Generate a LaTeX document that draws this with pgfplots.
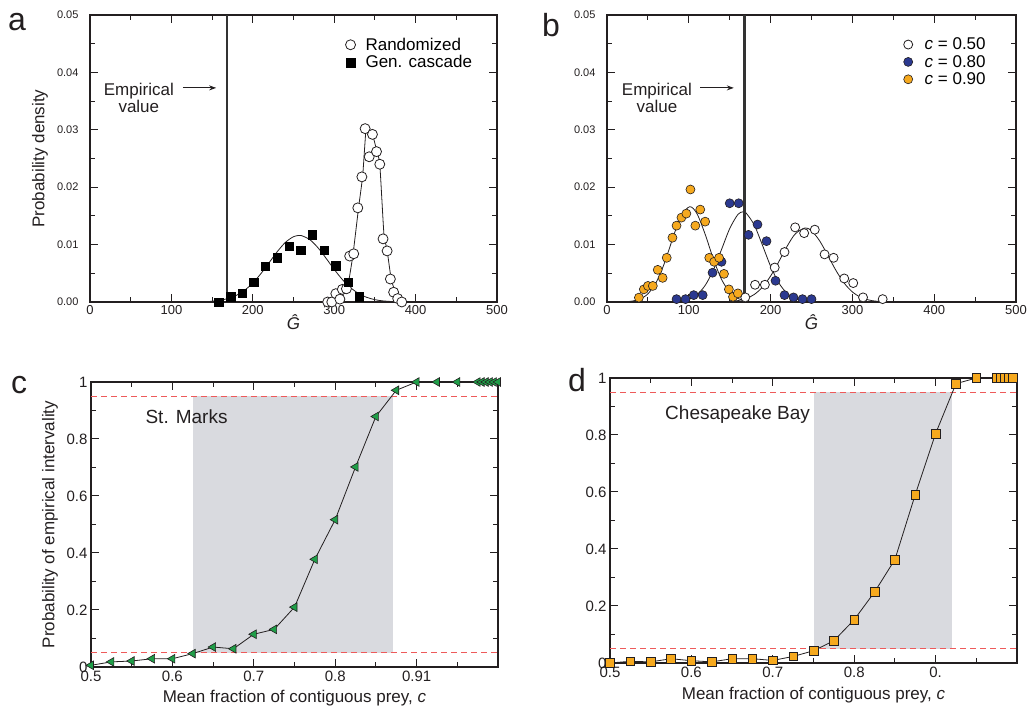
\documentclass[border=0pt]{standalone}
\usepackage{pgfplots}
\pgfplotsset{compat=1.18}
\usepackage{fontspec}
\setmainfont{Liberation Sans}
\usetikzlibrary{arrows.meta}

\definecolor{txt}{HTML}{231F20}
\definecolor{gorange}{HTML}{F6A91E}
\definecolor{gblue}{HTML}{2B3990}
\definecolor{ggreen}{HTML}{1F9E48}
\definecolor{gshade}{HTML}{D9DADF}
\definecolor{gred}{HTML}{EE5A5A}

\pgfplotsset{
  panel/.style={scale only axis, anchor=south west, clip=false,
    scaled ticks=false,
    axis line style={line width=1.3pt, txt}, tick style={line width=1pt, txt},
    major tick length=8pt, minor tick length=5pt, tick align=inside,
    every tick label/.append style={txt}, label style={txt},
    legend cell align=left},
  fitline/.style={txt, line width=0.8pt, smooth, forget plot},
}

\begin{document}
\begin{tikzpicture}[x=1pt,y=1pt]
\path[use as bounding box] (0,0) rectangle (1030,709);

% ---------- a ----------
\begin{axis}[panel, at={(90pt,407pt)}, width=407pt, height=287pt,
  xmin=0, xmax=500, ymin=0, ymax=0.05,
  xtick={0,100,200,300,400,500}, xticklabels={0,100,200,300,400,500},
  minor xtick={50,150,250,350,450},
  ytick={0,0.01,0.02,0.03,0.04,0.05}, yticklabels={0.00,0.01,0.02,0.03,0.04,0.05},
  minor ytick={0.005,0.015,0.025,0.035,0.045},
  xticklabel style={font=\fontsize{13}{13}\selectfont},
  yticklabel style={font=\fontsize{11}{11}\selectfont, xshift=-8pt},
  xlabel={\itshape Ĝ}, ylabel={Probability density},
  label style={font=\fontsize{17}{17}\selectfont},
  xlabel style={at={(axis description cs:0.5,0)}, anchor=center, yshift=-20pt},
  ylabel style={at={(axis description cs:-0.123,0.5)}, anchor=center},
  legend image code/.code={\draw[mark repeat=2, mark phase=2, #1] plot coordinates {(0pt,0pt) (5pt,0pt) (10pt,0pt)};},
  legend style={at={(0.62,0.928)}, anchor=north west, draw=none, fill=none,
    font=\fontsize{17}{17}\selectfont, nodes={inner sep=0pt}, row sep=4pt,
    /tikz/every odd column/.append style={column sep=10pt}},
]
\addplot[fitline] coordinates {(100,0) (140,0.00005) (150,0.00014) (160,0.00031) (170,0.00063) (180,0.00118) (190,0.00205) (200,0.00331) (210,0.00495) (220,0.00684) (230,0.00876) (240,0.01038) (250,0.01138) (257,0.0116) (260,0.01156) (270,0.01087) (280,0.00946) (290,0.00762) (300,0.00568) (310,0.00392) (320,0.00251) (330,0.00148) (340,0.00081) (350,0.00041) (360,0.00019) (380,0.00003) (420,0)};
\addplot[txt, line width=0.8pt, smooth, tension=0.3, forget plot] coordinates {(285,0) (295,0.0002) (305,0.0008) (312,0.0015) (317,0.0030) (323,0.0082) (330,0.0165) (335,0.0220) (339,0.0300) (342,0.0303) (347,0.0292) (352,0.0265) (356,0.0240) (361,0.0120) (365,0.0090) (370,0.0040) (375,0.0018) (381,0.0003) (390,0)};
\addplot[only marks, mark=*, mark size=5pt, mark options={fill=white, draw=txt, line width=0.8pt}] coordinates {
 (292,0) (297,0) (302,0.00145) (307,0.0005) (310,0.0022) (315,0.0023) (319,0.0080) (324,0.0084) (329,0.0164) (334,0.0218) (338,0.0302) (343,0.0253) (347,0.0292) (352,0.0262) (356,0.0240) (360,0.0110) (365,0.0089) (369,0.0040) (373,0.0017) (378,0.0006) (383,0)};
\addlegendentry{Randomized}
\addplot[only marks, mark=square*, mark size=4.2pt, mark options={fill=black, draw=black}] coordinates {
 (158,0) (173,0.0009) (187,0.0015) (201,0.0035) (215,0.0062) (230,0.0077) (245,0.0097) (259,0.0090) (273,0.0117) (288,0.0090) (302,0.0063) (317,0.0035) (331,0.0009)};
\addlegendentry{Gen. cascade}
\addplot[line width=2.5pt, black!80, forget plot] coordinates {(168,0) (168,0.05)};
\node[align=center, font=\fontsize{17}{17}\selectfont, txt] at (axis cs:60,0.0356) {Empirical\\value};
\draw[-{Stealth[length=7pt,width=5pt]}, line width=1pt, txt] (axis cs:114,0.0373) -- (axis cs:155,0.0373);
\end{axis}

% ---------- b ----------
\begin{axis}[panel, at={(607pt,407pt)}, width=409pt, height=287pt,
  xmin=0, xmax=500, ymin=0, ymax=0.05,
  xtick={0,100,200,300,400,500}, xticklabels={0,100,200,300,400,500},
  minor xtick={50,150,250,350,450},
  ytick={0,0.01,0.02,0.03,0.04,0.05}, yticklabels={0.00,0.01,0.02,0.03,0.04,0.05},
  minor ytick={0.005,0.015,0.025,0.035,0.045},
  xticklabel style={font=\fontsize{13}{13}\selectfont},
  yticklabel style={font=\fontsize{11}{11}\selectfont, xshift=-8pt},
  xlabel={\itshape Ĝ},
  label style={font=\fontsize{17}{17}\selectfont},
  xlabel style={at={(axis description cs:0.5,0)}, anchor=center, yshift=-20pt},
  legend image code/.code={\draw[mark repeat=2, mark phase=2, #1] plot coordinates {(0pt,0pt) (4.5pt,0pt) (9pt,0pt)};},
  legend style={at={(0.7176,0.928)}, anchor=north west, draw=none, fill=none,
    font=\fontsize{17}{17}\selectfont, nodes={inner sep=0pt}, row sep=4pt,
    /tikz/every odd column/.append style={column sep=12pt}},
]
\addplot[fitline] coordinates {(0,0) (20,0.00003) (30,0.00014) (40,0.00049) (50,0.00142) (60,0.00339) (70,0.00669) (80,0.01094) (90,0.01481) (101,0.0166) (110,0.01538) (120,0.0118) (130,0.0075) (140,0.00394) (150,0.00172) (160,0.00062) (170,0.00018) (180,0.00005) (200,0)};
\addplot[fitline] coordinates {(60,0) (80,0.00004) (90,0.00015) (100,0.00048) (110,0.00128) (120,0.00289) (130,0.00557) (140,0.00914) (150,0.01279) (160,0.01525) (166,0.0157) (170,0.0155) (180,0.01342) (190,0.0099) (200,0.00623) (210,0.00334) (220,0.00152) (230,0.00059) (240,0.0002) (250,0.00006) (270,0)};
\addplot[fitline] coordinates {(130,0) (150,0.00008) (160,0.00024) (170,0.00059) (180,0.00131) (190,0.00258) (200,0.00452) (210,0.00702) (220,0.00967) (230,0.01184) (242,0.0129) (250,0.01242) (260,0.01064) (270,0.0081) (280,0.00547) (290,0.00328) (300,0.00175) (310,0.00083) (320,0.00035) (330,0.00013) (350,0.00001) (370,0)};
\addplot[line width=2.5pt, black!80, forget plot] coordinates {(168,0) (168,0.05)};
\addplot[only marks, mark=*, mark size=4.5pt, mark options={fill=white, draw=txt, line width=0.8pt}] coordinates {
 (169,0.0008) (181,0.0030) (193,0.0030) (205,0.0060) (217,0.0087) (230,0.0130) (241,0.0120) (254,0.0126) (266,0.0083) (277,0.0077) (290,0.0041) (301,0.0033) (313,0.0008) (337,0.0005)};
\addlegendentry{\textit{c} = 0.50}
\addplot[only marks, mark=*, mark size=4.5pt, mark options={fill=gblue, draw=txt, line width=0.6pt}] coordinates {
 (85,0.0005) (96,0.0005) (106,0.0012) (117,0.0012) (129,0.0051) (140,0.0070) (150,0.0172) (161,0.0172) (173,0.0117) (184,0.0135) (195,0.0106) (206,0.0037) (217,0.0012) (228,0.0008) (239,0.0005) (250,0.0005)};
\addlegendentry{\textit{c} = 0.80}
\addplot[only marks, mark=*, mark size=4.5pt, mark options={fill=gorange, draw=txt, line width=0.6pt}] coordinates {
 (39,0.00076) (45,0.0022) (50,0.0028) (56,0.0028) (62,0.0056) (68,0.0042) (73,0.0077) (80,0.0112) (85,0.0133) (91,0.0147) (97,0.0154) (102,0.0196) (108,0.0133) (114,0.0161) (120,0.0140) (125,0.0077) (131,0.0070) (137,0.0077) (143,0.0049) (149,0.0022) (154,0.0009) (160,0.0015)};
\addlegendentry{\textit{c} = 0.90}
\node[align=center, font=\fontsize{17}{17}\selectfont, txt] at (axis cs:61,0.0356) {Empirical\\value};
\draw[-{Stealth[length=7pt,width=5pt]}, line width=1pt, txt] (axis cs:114,0.0373) -- (axis cs:155,0.0373);
\end{axis}

% ---------- c ----------
\begin{axis}[panel, at={(91pt,42pt)}, width=407pt, height=285pt,
  xmin=0.5, xmax=1, ymin=0, ymax=1,
  xtick={0.5,0.6,0.7,0.8,0.9}, xticklabels={0.5,0.6,0.7,0.8,0.91},
  minor xtick={0.55,0.65,0.75,0.85,0.95},
  ytick={0,0.2,0.4,0.6,0.8,1}, yticklabels={0,0.2,0.4,0.6,0.8,1},
  minor ytick={0.1,0.3,0.5,0.7,0.9},
  tick label style={font=\fontsize{15}{15}\selectfont},
  xlabel={Mean fraction of contiguous prey, \textit{c}},
  ylabel={Probability of empirical intervality},
  label style={font=\fontsize{17}{17}\selectfont},
  xlabel style={at={(axis description cs:0.5,0)}, anchor=center, yshift=-31pt},
  ylabel style={at={(axis description cs:-0.101,0.5)}, anchor=center},
]
\addplot[fill=gshade, draw=none] coordinates {(0.625,0.05) (0.871,0.05) (0.871,0.95) (0.625,0.95)} -- cycle;
\addplot[gred, line width=1.2pt, dash pattern=on 6pt off 4pt] coordinates {(0.5,0.95) (1,0.95)};
\addplot[gred, line width=1.2pt, dash pattern=on 6pt off 4pt] coordinates {(0.5,0.05) (1,0.05)};
\addplot[txt, line width=0.8pt, mark=triangle*, mark size=5pt, mark options={rotate=90, fill=ggreen, draw=txt, line width=0.6pt}] coordinates {
 (0.5,0.006) (0.525,0.018) (0.55,0.021) (0.575,0.029) (0.6,0.029) (0.625,0.047) (0.65,0.070) (0.675,0.064) (0.7,0.115) (0.725,0.132) (0.75,0.21) (0.775,0.378) (0.8,0.517) (0.825,0.702) (0.85,0.879) (0.875,0.971) (0.9,1) (0.925,1) (0.95,1) (0.975,1) (0.98,1) (0.985,1) (0.99,1) (0.995,1) (1,1)};
\node[anchor=west, font=\fontsize{19}{19}\selectfont, txt] at (axis cs:0.5627,0.877) {St. Marks};
\end{axis}

% ---------- d ----------
\begin{axis}[panel, at={(610pt,46pt)}, width=407pt, height=285pt,
  xmin=0.5, xmax=1, ymin=0, ymax=1,
  xtick={0.5,0.6,0.7,0.8,0.9}, xticklabels={0.5,0.6,0.7,0.8,0.},
  minor xtick={0.55,0.65,0.75,0.85,0.95},
  ytick={0,0.2,0.4,0.6,0.8,1}, yticklabels={0,0.2,0.4,0.6,0.8,1},
  minor ytick={0.1,0.3,0.5,0.7,0.9},
  tick label style={font=\fontsize{15}{15}\selectfont},
  xlabel={Mean fraction of contiguous prey, \textit{c}},
  label style={font=\fontsize{17}{17}\selectfont},
  xlabel style={at={(axis description cs:0.5,0)}, anchor=center, yshift=-32pt},
]
\addplot[fill=gshade, draw=none] coordinates {(0.75,0.05) (0.92,0.05) (0.92,0.95) (0.75,0.95)} -- cycle;
\addplot[gred, line width=1.2pt, dash pattern=on 6pt off 4pt] coordinates {(0.5,0.95) (1,0.95)};
\addplot[gred, line width=1.2pt, dash pattern=on 6pt off 4pt] coordinates {(0.5,0.05) (1,0.05)};
\addplot[txt, line width=0.8pt, mark=square*, mark size=4.3pt, mark options={fill=gorange, draw=txt, line width=0.6pt}] coordinates {
 (0.5,0.0) (0.525,0.006) (0.55,0.004) (0.575,0.015) (0.6,0.008) (0.625,0.004) (0.65,0.015) (0.675,0.015) (0.7,0.009) (0.725,0.023) (0.75,0.043) (0.775,0.078) (0.8,0.152) (0.825,0.249) (0.85,0.363) (0.875,0.591) (0.9,0.805) (0.925,0.98) (0.95,1) (0.975,1) (0.98,1) (0.985,1) (0.99,1) (0.995,1)};
\node[anchor=west, font=\fontsize{19}{19}\selectfont, txt] at (axis cs:0.5635,0.870) {Chesapeake Bay};
\end{axis}

% panel letters
\node[anchor=north, inner sep=0pt, font=\fontsize{32}{32}\selectfont, txt] at (17,696.3) {a};
\node[anchor=north, inner sep=0pt, font=\fontsize{32}{32}\selectfont, txt] at (551,695.7) {b};
\node[anchor=north, inner sep=0pt, font=\fontsize{32}{32}\selectfont, txt] at (19,333) {c};
\node[anchor=north, inner sep=0pt, font=\fontsize{32}{32}\selectfont, txt] at (577,341) {d};
\end{tikzpicture}
\end{document}
